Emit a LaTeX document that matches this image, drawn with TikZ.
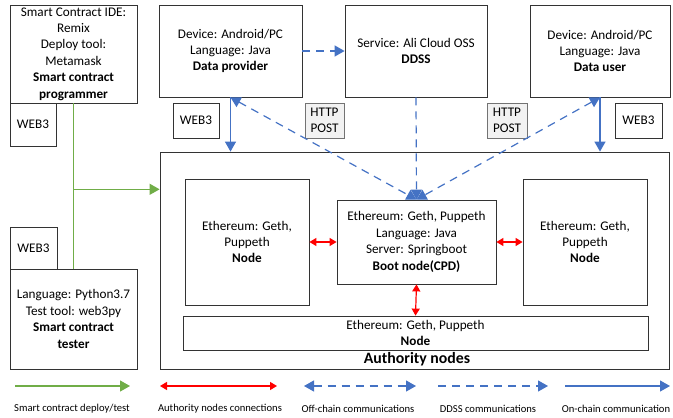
\documentclass[tikz,border=0pt]{standalone}
\usepackage{fontspec}
\setmainfont{Carlito}
\usetikzlibrary{calc,arrows.meta}

\definecolor{onblue}{HTML}{4472C4}
\definecolor{devgreen}{HTML}{70AD47}
\definecolor{authred}{HTML}{FF0000}

\tikzset{
    box/.style={draw=black!80, line width=0.8pt, align=center, inner sep=0pt,
        font=\fontsize{13.2}{16.4}\selectfont},
    webbox/.style={box},
    httpbox/.style={box, draw=black!55, fill=black!5, line width=0.9pt},
    tip/.style={-{Triangle[width=11pt,length=10pt]}},
    twotip/.style={{Triangle[width=11pt,length=10pt]}-{Triangle[width=11pt,length=10pt]}},
    redtip/.style={{Triangle[width=8pt,length=7pt]}-{Triangle[width=8pt,length=7pt]}},
    onchain/.style={draw=onblue, line width=1.2pt, tip},
    offchain/.style={draw=onblue, line width=1.2pt, twotip, dash pattern=on 8pt off 6pt},
    ddsslink/.style={draw=onblue, line width=1.2pt, tip, dash pattern=on 8pt off 6pt},
    deploy/.style={draw=devgreen, line width=1.2pt, tip},
    authlink/.style={draw=authred, line width=1.2pt, redtip},
    legendtext/.style={font=\fontsize{10.6}{12}\selectfont, inner sep=0pt}
}

\begin{document}
\begin{tikzpicture}[x=1pt, y=-1pt]
    \useasboundingbox (0,0) rectangle (673,418);

    % smart contract people
    \node[box, minimum width=127pt, minimum height=98pt] (prog) at (73.5,54)
        {Smart Contract IDE:\\Remix\\Deploy tool:\\Metamask\\\textbf{Smart contract}\\\textbf{programmer}};
    \node[webbox, minimum width=46pt, minimum height=43pt] (progweb) at (33,124.5) {WEB3};
    \node[box, minimum width=127pt, minimum height=100pt] (tester) at (73.5,319)
        {Language: Python3.7\\Test tool: web3py\\\textbf{Smart contract}\\\textbf{tester}};
    \node[webbox, minimum width=47pt, minimum height=42pt] (testweb) at (33.5,248) {WEB3};

    % data side
    \node[box, minimum width=143pt, minimum height=92pt] (provider) at (230.5,51)
        {Device: Android/PC\\Language: Java\\\textbf{Data provider}};
    \node[box, minimum width=142pt, minimum height=92pt] (ddss) at (416,51)
        {Service: Ali Cloud OSS\\\textbf{DDSS}};
    \node[box, minimum width=140pt, minimum height=92pt] (user) at (600,51)
        {Device: Android/PC\\Language: Java\\\textbf{Data user}};
    \node[webbox, minimum width=46pt, minimum height=35pt] (provweb) at (196,120.5) {WEB3};
    \node[httpbox, minimum width=39pt, minimum height=35pt] (httpA) at (324.5,120.5) {HTTP\\POST};
    \node[httpbox, minimum width=40pt, minimum height=35pt] (httpB) at (507,120.5) {HTTP\\POST};
    \node[webbox, minimum width=47pt, minimum height=35pt] (userweb) at (638.5,120.5) {WEB3};

    % authority nodes
    \node[box, minimum width=509pt, minimum height=217pt] (auth) at (414.5,260.5) {};
    \node[box, minimum width=124pt, minimum height=126pt] (nodeL) at (247,242)
        {Ethereum: Geth,\\Puppeth\\\textbf{Node}};
    \node[box, minimum width=159pt, minimum height=84pt] (boot) at (416.5,242)
        {Ethereum: Geth, Puppeth\\Language: Java\\Server: Springboot\\\textbf{Boot node(CPD)}};
    \node[box, minimum width=124pt, minimum height=126pt] (nodeR) at (585,242)
        {Ethereum: Geth,\\Puppeth\\\textbf{Node}};
    \node[box, minimum width=465pt, minimum height=34pt] (nodeB) at (415.5,333)
        {Ethereum: Geth, Puppeth\\\textbf{Node}};
    \node[font=\fontsize{15.8}{18}\bfseries, inner sep=0pt] (authlabel) at (417,359) {Authority nodes};

    % connections
    \coordinate (branch) at ($(prog.south)!0.52!(tester.north)$);
    \draw[draw=devgreen, line width=1.2pt] (prog.south) -- (tester.north);
    \draw[deploy] (branch) -- (branch -| auth.west);
    \draw[onchain] (provider.south) -- (provider.south |- auth.north);
    \draw[onchain] (user.south) -- (user.south |- auth.north);
    \draw[ddsslink] (provider.east) -- (ddss.west);
    \draw[ddsslink] (ddss.south) -- (boot.north);
    \draw[offchain] (provider.south) -- (boot.north);
    \draw[offchain] (user.south) -- (boot.north);
    \draw[authlink] (nodeL.east) -- (boot.west);
    \draw[authlink] (boot.east) -- (nodeR.west);
    \draw[authlink] (boot.south) -- (nodeB.north);

    % legend
    \coordinate (lgA) at (15,386);   \coordinate (lgB) at (130,386);
    \coordinate (lgC) at (160,386);  \coordinate (lgD) at (277,386);
    \coordinate (lgE) at (304,386);  \coordinate (lgF) at (416,386);
    \coordinate (lgG) at (438,386);  \coordinate (lgH) at (548,386);
    \coordinate (lgI) at (565,386);  \coordinate (lgJ) at (670,386);
    \draw[deploy] (lgA) -- (lgB);
    \draw[authlink] (lgC) -- (lgD);
    \draw[offchain] (lgE) -- (lgF);
    \draw[ddsslink] (lgG) -- (lgH);
    \draw[onchain] (lgI) -- (lgJ);
    \node[legendtext] (lgtA) at (72,409) {Smart contract deploy/test};
    \node[legendtext] (lgtB) at (220,409) {Authority nodes connections};
    \node[legendtext] (lgtC) at (358,409) {Off-chain communications};
    \node[legendtext] (lgtD) at (488,409) {DDSS communications};
    \node[legendtext] (lgtE) at (616,409) {On-chain communication};
\end{tikzpicture}
\end{document}
